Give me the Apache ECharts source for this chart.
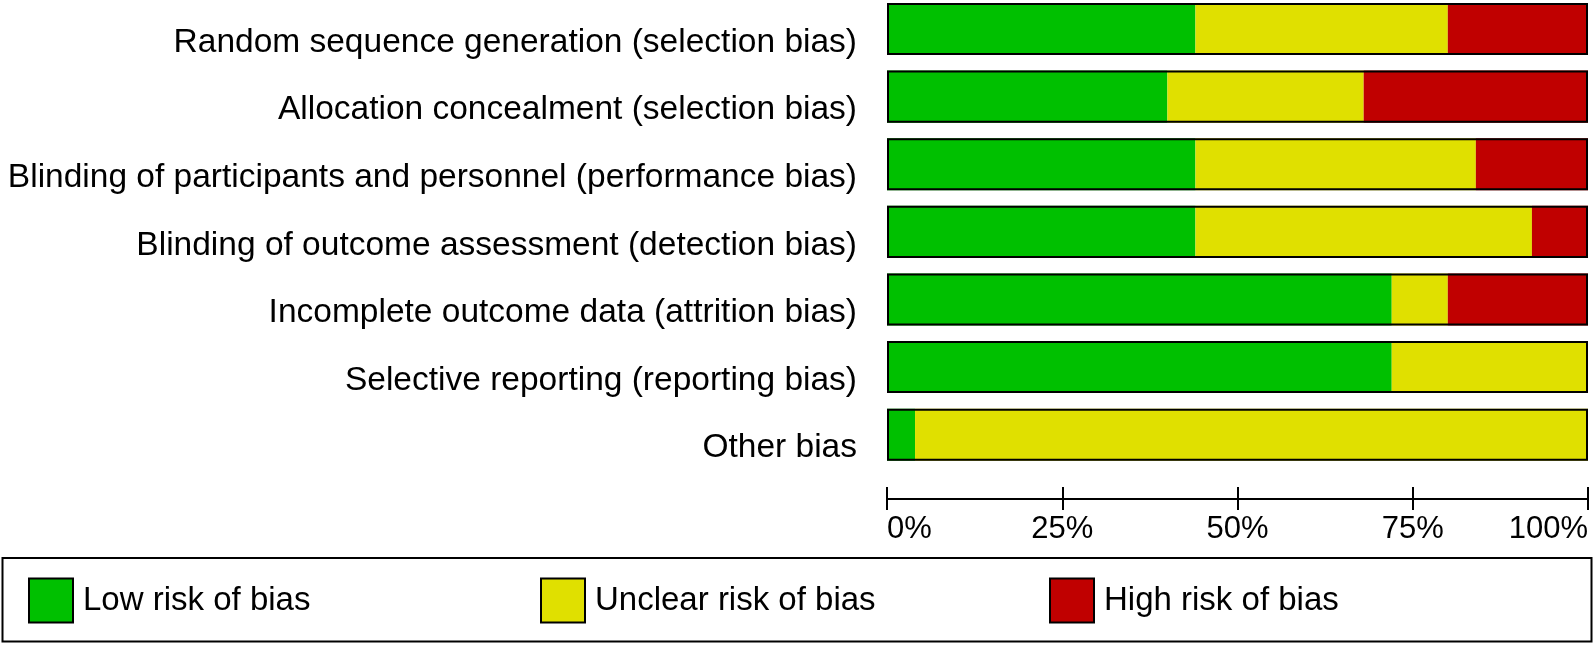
<!DOCTYPE html>
<html>
<head>
<meta charset="utf-8">
<script src="https://cdn.jsdelivr.net/npm/echarts@6/dist/echarts.min.js"></script>
<style>
html,body{margin:0;padding:0;background:#fff;}
#chart{width:1594px;height:645px;}
</style>
</head>
<body>
<div id="chart"></div>
<script>
var categories = [
  'Random sequence generation (selection bias)',
  'Allocation concealment (selection bias)',
  'Blinding of participants and personnel (performance bias)',
  'Blinding of outcome assessment (detection bias)',
  'Incomplete outcome data (attrition bias)',
  'Selective reporting (reporting bias)',
  'Other bias'
];
var lowRisk = [44, 40, 44, 44, 72, 72, 4];
var unclearRisk = [36, 28, 40, 48, 8, 28, 96];
var highRisk = [20, 32, 16, 8, 20, 0, 0];
var tickValues = [0, 25, 50, 75, 100];
var seriesNames = ['Low risk of bias', 'Unclear risk of bias', 'High risk of bias'];

var totals = categories.map(function (c, i) { return lowRisk[i] + unclearRisk[i] + highRisk[i]; });

var FONT = 'Liberation Sans';
var chart = echarts.init(document.getElementById('chart'), null, {renderer: 'canvas'});

function axisBase(tickInside, showLabel) {
  return {
    type: 'value', position: 'bottom', offset: 64.3,
    min: tickValues[0], max: tickValues[tickValues.length - 1], interval: 25,
    axisLine: {show: true, lineStyle: {color: '#000', width: 2}},
    axisTick: {show: true, inside: tickInside, length: tickInside ? 12 : 11, lineStyle: {color: '#000', width: 2}},
    splitLine: {show: false},
    axisLabel: {
      show: showLabel, color: '#000', fontFamily: FONT, fontSize: 31, margin: 15,
      formatter: '{value}%', alignMinLabel: 'left', alignMaxLabel: 'right'
    }
  };
}

function legendAt(left, name) {
  return {
    left: left, top: 577.5, padding: 0,
    itemWidth: 44, itemHeight: 44, icon: 'rect',
    data: [name],
    itemStyle: {borderColor: '#000', borderWidth: 2},
    textStyle: {color: '#000', fontFamily: FONT, fontSize: 33, padding: [0, 0, 0, 5]},
    selectedMode: false
  };
}

var option = {
  backgroundColor: '#fff',
  animation: false,
  grid: {left: 887, right: 6, top: 29, bottom: 210.3, containLabel: false, outerBoundsMode: 'none'},
  xAxis: [axisBase(true, true), axisBase(false, false)],
  yAxis: {
    type: 'category', data: categories, inverse: true, boundaryGap: false,
    axisLine: {show: false}, axisTick: {show: false}, splitLine: {show: false},
    axisLabel: {color: '#000', fontFamily: FONT, fontSize: 33.5, margin: 30,
                verticalAlign: 'top', lineHeight: 27}
  },
  legend: [
    legendAt(28, seriesNames[0]),
    legendAt(540, seriesNames[1]),
    legendAt(1049, seriesNames[2])
  ],
  graphic: [{
    type: 'rect', z: -1,
    shape: {x: 2.5, y: 558, width: 1589, height: 83.5},
    style: {fill: '#fff', stroke: '#000', lineWidth: 2}
  }],
  series: [
    {name: seriesNames[0], type: 'bar', stack: 'risk', data: lowRisk, barCategoryGap: '23%', barGap: '-100%',
     clip: false, itemStyle: {color: '#00c000'}},
    {name: seriesNames[1], type: 'bar', stack: 'risk', data: unclearRisk, clip: false,
     itemStyle: {color: '#e0e000'}},
    {name: seriesNames[2], type: 'bar', stack: 'risk', data: highRisk, clip: false,
     itemStyle: {color: '#c00000'}},
    {name: 'frame', type: 'bar', data: totals, z: 5, barGap: '-100%', barCategoryGap: '23%', clip: false,
     itemStyle: {color: 'rgba(0,0,0,0)', borderColor: '#000', borderWidth: 2}}
  ]
};
chart.setOption(option);
</script>
</body>
</html>
